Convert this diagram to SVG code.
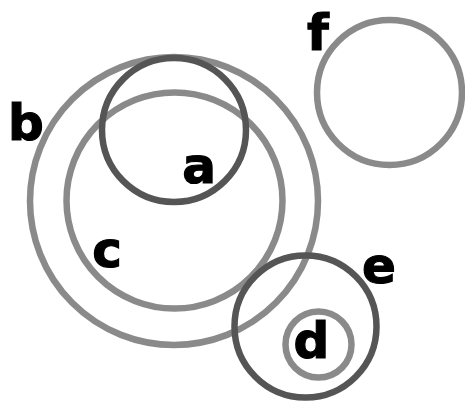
<svg xmlns="http://www.w3.org/2000/svg" width="465" height="401" viewBox="0 0 465 401">
<style>
.light{fill:none;stroke:#8a8a8a;stroke-width:6.5}
.dark{fill:none;stroke:#555555;stroke-width:6.5}
.lbl{font-family:"DejaVu Sans",Verdana,sans-serif;font-weight:bold;font-size:50px;fill:#000;stroke:#000;stroke-width:1.2;text-anchor:middle}
</style>
<rect width="465" height="401" fill="#fff"/>
<g id="connectors"></g>
<g id="b"><circle class="light" cx="174" cy="201" r="144"/><text class="lbl" x="26" y="140">b</text></g>
<g id="c"><circle class="light" cx="174.5" cy="200.5" r="108"/><text class="lbl" x="107" y="267">c</text></g>
<g id="a"><circle class="dark" cx="174" cy="130" r="72"/><text class="lbl" x="199" y="183">a</text></g>
<g id="f"><circle class="light" cx="389.5" cy="92.5" r="72.5"/><text class="lbl" x="318" y="50">f</text></g>
<g id="e"><circle class="dark" cx="305.5" cy="326.5" r="71"/><text class="lbl" x="379" y="283">e</text></g>
<g id="d"><circle class="light" cx="318.5" cy="344.5" r="33"/><text class="lbl" x="311.5" y="358">d</text></g>
</svg>
